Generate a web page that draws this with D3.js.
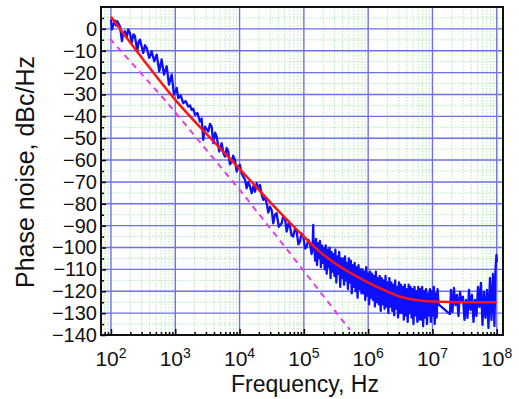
<!DOCTYPE html>
<html>
<head>
<meta charset="utf-8">
<script src="https://cdn.jsdelivr.net/npm/d3@7"></script>
<style>
  body { margin: 0; background: #fff; }
  svg { display: block; font-family: "Liberation Sans", Arial, sans-serif; }
</style>
</head>
<body>
<div id="chart"></div>
<script>
// ---- data ----
const decadeExponents = [2, 3, 4, 5, 6, 7, 8];
const yTickValues = [0, -10, -20, -30, -40, -50, -60, -70, -80, -90, -100, -110, -120, -130, -140];

// fitted model (red)
const fitLg = [2.0, 2.5, 3.0, 3.5, 4.0, 4.5, 5.0, 5.25, 5.5, 5.75, 6.0, 6.25, 6.5, 6.75, 7.0, 7.5, 8.0];
const fitDb = [5.5, -14, -32.5, -48.5, -64, -80, -95, -102, -107.5, -112, -116, -119.5, -122.5, -124, -124.7, -125, -125];

// asymptote (magenta dashed)
const asymLg = [1.984, 2.866, 4.053, 4.706, 5.717];
const asymDb = [-4.5, -33.4, -75.5, -99.7, -137.7];

// measured trace, low offsets
const traceLg = [2.000, 2.016, 2.040, 2.062, 2.080, 2.098, 2.140, 2.171, 2.190, 2.218, 2.245, 2.269, 2.295, 2.322, 2.350,
  2.373, 2.409, 2.430, 2.451, 2.502, 2.530, 2.555, 2.596, 2.633, 2.673, 2.711, 2.751, 2.788, 2.824, 2.866, 2.902,
  2.944, 2.980, 3.022, 3.047, 3.085, 3.124, 3.160, 3.202, 3.230, 3.255, 3.280, 3.306, 3.345, 3.384, 3.410, 3.435,
  3.462, 3.490, 3.513, 3.540, 3.566, 3.591, 3.620, 3.644, 3.684, 3.722, 3.750, 3.773, 3.800, 3.824, 3.850, 3.877,
  3.900, 3.928, 3.955, 3.980, 4.006, 4.030, 4.058, 4.085, 4.110, 4.135, 4.162, 4.188, 4.213, 4.240, 4.266, 4.290,
  4.317, 4.345, 4.369, 4.395, 4.421, 4.447, 4.473, 4.500, 4.524, 4.550, 4.577, 4.610, 4.655, 4.680, 4.706, 4.733,
  4.760, 4.784, 4.810, 4.835, 4.860, 4.888, 4.915, 4.939, 4.965, 4.991, 5.020, 5.044, 5.070, 5.095, 5.120, 5.134,
  5.146, 5.152];
const traceDb = [4.3, -0.3, 2.0, 3.8, 1.5, 3.5, 1.2, -5.6, -2.0, -1.1, -4.0, -0.3, -1.8, -6.4, -2.5,
  -3.3, -10.2, -6.0, -4.9, -11.0, -7.5, -8.7, -13.3, -10.2, -14.8, -11.8, -19.4, -14.0, -20.9, -17.1, -25.5,
  -20.9, -30.1, -27.0, -31.7, -30.5, -34.0, -33.0, -35.5, -35.0, -37.1, -36.5, -39.3, -38.5, -42.4, -41.0, -50.8,
  -44.7, -46.0, -47.0, -43.5, -44.7, -52.3, -47.5, -49.3, -56.1, -52.3, -57.0, -58.4, -54.5, -56.1, -62.0, -60.7,
  -58.0, -59.9, -65.3, -63.0, -62.2, -66.0, -67.6, -69.0, -72.9, -70.0, -72.1, -75.2, -72.1, -74.5, -70.6, -73.0,
  -71.4, -76.0, -78.2, -77.0, -79.7, -84.0, -81.3, -83.0, -88.9, -85.0, -84.3, -90.5, -88.9, -85.5, -86.6, -92.7,
  -89.0, -90.4, -94.5, -95.0, -91.5, -92.7, -98.5, -97.3, -93.5, -95.0, -100.5, -99.6, -96.5, -98.0, -103, -101,
  -89.7, -101];

// measured trace, dense band (log-frequency grid)
const bandStartLg = 5.16;
const bandStepLg = 0.015;
const bandDb = [
  -97, -106, -96, -108, -98, -105, -97, -109, -99, -107,
  -100, -110, -99, -112, -101, -109, -100, -114, -102, -111,
  -103, -113, -101, -116, -104, -112, -102, -118, -105, -114,
  -105, -117, -104, -115, -107, -119, -105, -116, -106, -121,
  -108, -118, -107, -120, -109, -123, -108, -119, -110, -121,
  -110, -121, -111, -124, -109, -122, -112, -126, -111, -123,
  -112, -124, -113, -127, -111, -125, -114, -126, -113, -129,
  -114, -126, -115, -128, -113, -127, -116, -130, -114, -127,
  -116, -129, -117, -131, -115, -128, -118, -132, -116, -130,
  -117, -130, -118, -133, -117, -131, -119, -134, -117, -130,
  -118, -132, -119, -135, -118, -131, -120, -134, -118, -133,
  -119, -133, -118, -136, -120, -132, -119, -135, -121, -131,
  -119, -134, -120, -131, -118, -135, -121, -132, -119, -126
];

// measured trace, high offsets
const tailLg = [7.272, 7.288, 7.311, 7.334, 7.358, 7.381, 7.404, 7.428, 7.451, 7.474, 7.498, 7.521, 7.544, 7.568,
  7.591, 7.614, 7.638, 7.661, 7.684, 7.708, 7.731, 7.754, 7.778, 7.801, 7.824, 7.848, 7.871, 7.894, 7.918, 7.941,
  7.964, 7.980, 7.995, 8.003];
const tailDb = [-130.4, -119.4, -129.5, -118.5, -126.3, -121.7, -131.3, -120.3, -124.9, -122.6, -133.1, -124, -132.2, -119.4,
  -128.5, -121.7, -134, -124, -131.3, -118, -127.2, -116.2, -135.4, -120.3, -132.2, -119.4, -136.8, -113.9, -133.1, -112.1,
  -135.9, -110.2, -103.4, -106.6];

// ---- layout ----
const W = 519, H = 399;
const plot = { left: 101, right: 503, top: 7, bottom: 335 };

const svg = d3.select("#chart").append("svg")
  .attr("width", W)
  .attr("height", H);

const x = d3.scaleLog().domain([70, 1.25e8]).range([plot.left, plot.right]);
const y = d3.scaleLinear().domain([-140, 10]).range([plot.bottom, plot.top]);

// build point lists
const fit = fitLg.map((l, i) => ({ f: Math.pow(10, l), db: fitDb[i] }));
const asym = asymLg.map((l, i) => ({ f: Math.pow(10, l), db: asymDb[i] }));
const trace = traceLg.map((l, i) => ({ f: Math.pow(10, l), db: traceDb[i] }))
  .concat(bandDb.map((v, i) => ({ f: Math.pow(10, bandStartLg + i * bandStepLg), db: v })))
  .concat(tailLg.map((l, i) => ({ f: Math.pow(10, l), db: tailDb[i] })));

// minor frequency values 2..9 per decade
const minorF = [];
for (let e = 1; e <= 8; e++) {
  for (let k = 2; k <= 9; k++) {
    const f = k * Math.pow(10, e);
    if (f > x.domain()[0] && f < x.domain()[1]) minorF.push(f);
  }
}
const minorDb = d3.range(-135, 10, 10);
const majorF = decadeExponents.map(e => Math.pow(10, e));

svg.append("clipPath").attr("id", "clip")
  .append("rect")
  .attr("x", plot.left).attr("y", plot.top)
  .attr("width", plot.right - plot.left).attr("height", plot.bottom - plot.top);

// minor grid (green dotted)
const grid = svg.append("g");
grid.selectAll(".vminor").data(minorF).enter().append("line")
  .attr("x1", d => x(d)).attr("x2", d => x(d))
  .attr("y1", plot.top).attr("y2", plot.bottom)
  .attr("stroke", "#b3ebb3").attr("stroke-width", 1).attr("stroke-dasharray", "1.5,1.5");
grid.selectAll(".hminor").data(minorDb).enter().append("line")
  .attr("x1", plot.left).attr("x2", plot.right)
  .attr("y1", d => y(d)).attr("y2", d => y(d))
  .attr("stroke", "#b3ebb3").attr("stroke-width", 1).attr("stroke-dasharray", "1.5,1.5");

// major grid (blue)
grid.selectAll(".vmajor").data(majorF).enter().append("line")
  .attr("x1", d => x(d)).attr("x2", d => x(d))
  .attr("y1", plot.top).attr("y2", plot.bottom)
  .attr("stroke", "#6f6fe8").attr("stroke-width", 1.4);
grid.selectAll(".hmajor").data(yTickValues).enter().append("line")
  .attr("x1", plot.left).attr("x2", plot.right)
  .attr("y1", d => y(d)).attr("y2", d => y(d))
  .attr("stroke", "#6f6fe8").attr("stroke-width", 1.4);

// series
const line = d3.line().x(d => x(d.f)).y(d => y(d.db));
const series = svg.append("g").attr("clip-path", "url(#clip)");

series.append("path").datum(asym)
  .attr("d", line)
  .attr("fill", "none")
  .attr("stroke", "#e83ce8")
  .attr("stroke-width", 2)
  .attr("stroke-dasharray", "6,5");

series.append("path").datum(trace)
  .attr("d", line)
  .attr("fill", "none")
  .attr("stroke", "#0f0fff")
  .attr("stroke-width", 2.3)
  .attr("stroke-linejoin", "round");

series.append("path").datum(fit)
  .attr("d", line.curve(d3.curveMonotoneX))
  .attr("fill", "none")
  .attr("stroke", "#ff1414")
  .attr("stroke-width", 2.5);

// frame
svg.append("rect")
  .attr("x", plot.left).attr("y", plot.top)
  .attr("width", plot.right - plot.left).attr("height", plot.bottom - plot.top)
  .attr("fill", "none").attr("stroke", "#111").attr("stroke-width", 2);

// x axis ticks (inward)
const xAxisMinor = svg.append("g")
  .attr("transform", `translate(0,${plot.bottom})`)
  .call(d3.axisBottom(x).tickValues(minorF).tickSize(-3).tickFormat(""));
const xAxisMajor = svg.append("g")
  .attr("transform", `translate(0,${plot.bottom})`)
  .call(d3.axisBottom(x).tickValues(majorF).tickSize(-6).tickFormat(""));
[xAxisMinor, xAxisMajor].forEach(g => {
  g.select(".domain").remove();
  g.selectAll("line").attr("stroke", "#000").attr("stroke-width", 1.5);
});

// x tick labels 10^n
const xLabels = svg.append("g").selectAll("text").data(decadeExponents).enter().append("text")
  .attr("x", d => x(Math.pow(10, d)))
  .attr("y", 366)
  .attr("text-anchor", "middle")
  .style("font-size", "21px")
  .style("fill", "#111");
xLabels.append("tspan").text("10");
xLabels.append("tspan").attr("dy", "-0.55em").style("font-size", "14px").text(d => d);

// y axis
const yAxisMinor = svg.append("g")
  .attr("transform", `translate(${plot.left},0)`)
  .call(d3.axisLeft(y).tickValues(minorDb).tickSize(-3).tickFormat(""));
const yAxis = svg.append("g")
  .attr("transform", `translate(${plot.left},0)`)
  .call(d3.axisLeft(y).tickValues(yTickValues).tickSize(-5).tickPadding(4));
[yAxisMinor, yAxis].forEach(g => {
  g.select(".domain").remove();
  g.selectAll("line").attr("stroke", "#000").attr("stroke-width", 1.5);
});
yAxis.selectAll("text")
  .style("font-size", "20px")
  .style("font-family", "\"Liberation Sans\", Arial, sans-serif")
  .style("fill", "#111");

// axis titles
svg.append("text")
  .attr("x", 305)
  .attr("y", 392)
  .attr("text-anchor", "middle")
  .style("font-size", "23px")
  .style("fill", "#111")
  .text("Frequency, Hz");

svg.append("text")
  .attr("transform", "rotate(-90)")
  .attr("x", -172)
  .attr("y", 34)
  .attr("text-anchor", "middle")
  .style("font-size", "25px")
  .style("fill", "#111")
  .text("Phase noise, dBc/Hz");
</script>
</body>
</html>
